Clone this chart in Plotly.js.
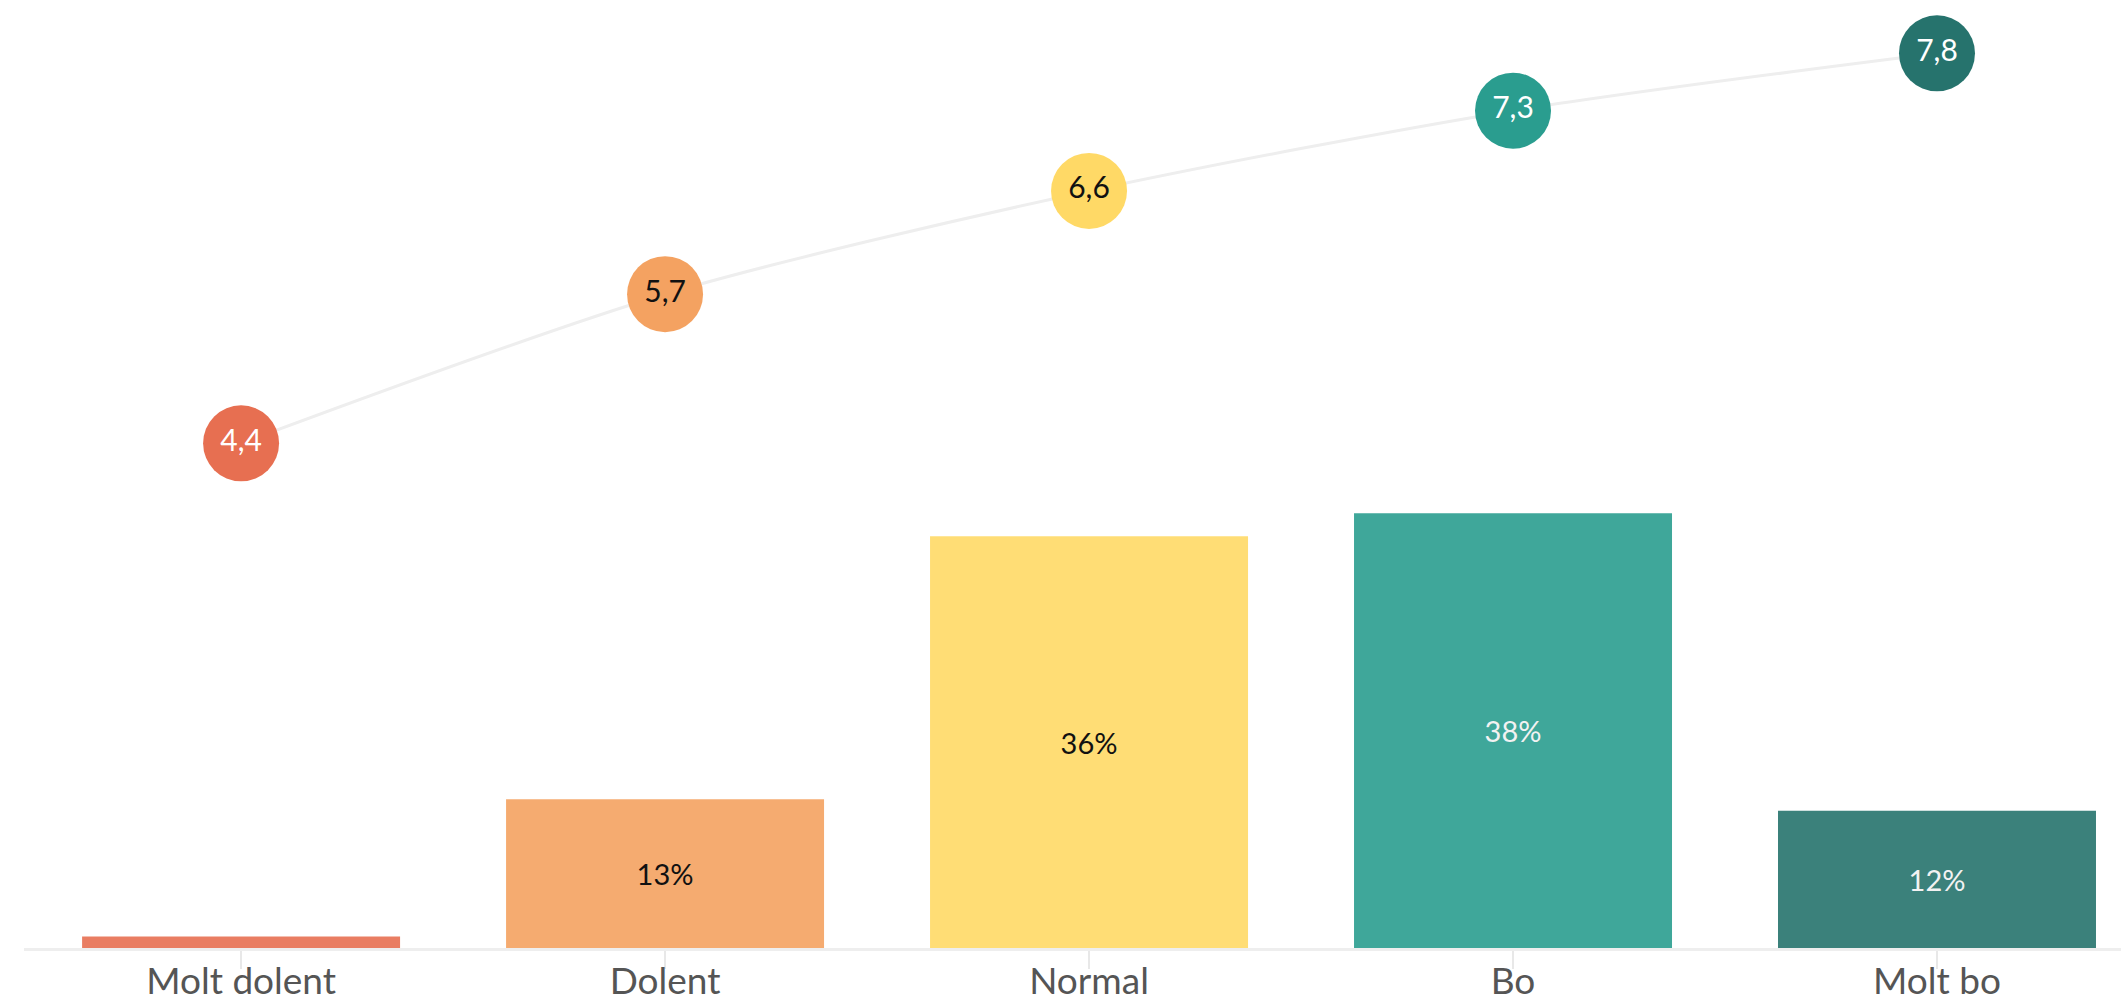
<!DOCTYPE html>
<html>
<head>
<meta charset="utf-8">
<script src="https://cdn.plot.ly/plotly-3.0.1.min.js"></script>
<style>html,body{margin:0;padding:0;background:#fff;}#chart{width:2121px;height:1007px;}</style>
</head>
<body>
<div id="chart"></div>
<script>
const categories = ["Molt dolent", "Dolent", "Normal", "Bo", "Molt bo"];
const sharePct = [1, 13, 36, 38, 12];
const meanScore = [4.4, 5.7, 6.6, 7.3, 7.8];
const colors = ["#e76f51", "#f4a261", "#ffd966", "#2a9d8f", "#26736d"];
const textColors = ["#ffffff", "#111111", "#111111", "#ffffff", "#ffffff"];
const barTextColors = ["#ffffff", "#111111", "#111111", "#f2f2f2", "#f2f2f2"];

const FONT = "Lato, 'Source Sans Pro', 'Open Sans', sans-serif";

const bars = {
  type: "bar",
  x: categories,
  y: sharePct,
  marker: {color: colors, opacity: 0.9},
  text: sharePct.map(v => v >= 3 ? Math.round(v) + "%" : ""),
  textposition: "inside",
  insidetextanchor: "middle",
  textangle: 0,
  insidetextfont: {family: FONT, size: 29, color: barTextColors},
  hoverinfo: "skip",
  yaxis: "y"
};

const line = {
  type: "scatter",
  mode: "lines+markers+text",
  x: categories,
  y: meanScore,
  yaxis: "y2",
  line: {color: "#eeeeee", width: 3, shape: "spline", smoothing: 0.8},
  marker: {size: 76, color: colors, line: {width: 0}},
  texttemplate: "%{y:.1f}",
  textposition: "middle center",
  textfont: {family: FONT, size: 30, color: textColors},
  cliponaxis: false,
  hoverinfo: "skip"
};

const layout = {
  width: 2121,
  height: 1007,
  margin: {l: 24, r: 0, t: 0, b: 59},
  paper_bgcolor: "#ffffff",
  plot_bgcolor: "#ffffff",
  separators: ",.",
  showlegend: false,
  bargap: 0.25,
  font: {family: FONT},
  xaxis: {
    type: "category",
    range: [-0.512, 4.434],
    showline: true,
    linecolor: "#eeeeee",
    linewidth: 3,
    ticks: "outside",
    ticklen: 18,
    tickwidth: 2,
    tickcolor: "#e8e8e8",
    ticklabelstandoff: -19,
    tickfont: {family: FONT, size: 37, color: "#555555"},
    showgrid: false,
    fixedrange: true
  },
  yaxis: {
    range: [0, 82.87],
    visible: false,
    showgrid: false,
    zeroline: false,
    fixedrange: true
  },
  yaxis2: {
    range: [0, 8.265],
    overlaying: "y",
    visible: false,
    showgrid: false,
    zeroline: false,
    fixedrange: true
  }
};

Plotly.newPlot("chart", [bars, line], layout, {displayModeBar: false, staticPlot: true});
</script>
</body>
</html>
